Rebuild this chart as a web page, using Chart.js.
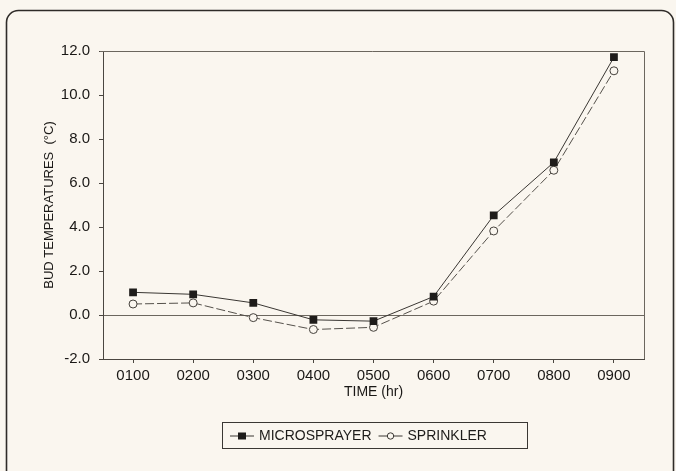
<!DOCTYPE html>
<html>
<head>
<meta charset="utf-8">
<script src="https://cdn.jsdelivr.net/npm/chart.js@4/dist/chart.umd.min.js"></script>
<style>
  html, body { margin: 0; padding: 0; background: #faf6ef; }
  #wrap { width: 676px; height: 471px; position: relative; }
</style>
</head>
<body>
<div id="wrap"><canvas id="grafico" width="676" height="471"></canvas></div>
<script>
// horas e temperaturas dos botões
const horas = ["0100", "0200", "0300", "0400", "0500", "0600", "0700", "0800", "0900"];
const microsprayer = [1.03, 0.94, 0.55, -0.22, -0.28, 0.84, 4.53, 6.94, 11.72];
const sprinkler = [0.5, 0.55, -0.12, -0.66, -0.56, 0.63, 3.82, 6.58, 11.1];
const ticksY = [-2, 0, 2, 4, 6, 8, 10, 12];

const corLinha = "#3a3733";
const fonte = "'Liberation Sans', Arial, sans-serif";

// moldura arredondada, borda da área e legenda desenhada à mão
const molduraPlugin = {
  id: "moldura",
  beforeDraw(chart) {
    const ctx = chart.ctx;
    ctx.save();
    ctx.fillStyle = "#faf6ef";
    ctx.fillRect(0, 0, chart.width, chart.height);
    ctx.strokeStyle = "#2e2b28";
    ctx.lineWidth = 1.6;
    ctx.beginPath();
    ctx.roundRect(6.5, 10.5, 667, 480, 12);
    ctx.stroke();
    ctx.restore();
  },
  afterDatasetsDraw(chart) {
    const ctx = chart.ctx;
    const a = chart.chartArea;
    ctx.save();
    ctx.strokeStyle = "#6b665e";
    ctx.lineWidth = 1;
    ctx.beginPath();
    ctx.moveTo(a.left - 3, a.top + 0.5);
    ctx.lineTo(a.right + 0.5, a.top + 0.5);
    ctx.lineTo(a.right + 0.5, a.bottom);
    ctx.stroke();

    // legenda
    const lx = 222, ly = 422, lw = 305, lh = 26;
    ctx.strokeStyle = "#3a3733";
    ctx.lineWidth = 1;
    ctx.strokeRect(lx + 0.5, ly + 0.5, lw, lh);
    ctx.font = "14px " + fonte;
    ctx.textBaseline = "middle";
    ctx.fillStyle = "#1e1c1a";
    const cy = ly + lh / 2 + 1;
    let x = lx + 8;
    chart.data.datasets.forEach(ds => {
      ctx.strokeStyle = corLinha;
      ctx.lineWidth = 1;
      ctx.setLineDash([]);
      ctx.beginPath();
      ctx.moveTo(x, cy);
      ctx.lineTo(x + 24, cy);
      ctx.stroke();
      ctx.beginPath();
      if (ds.pointStyle === "rect") {
        ctx.fillStyle = "#1e1c1a";
        ctx.fillRect(x + 8, cy - 3.5, 8, 7);
      } else {
        ctx.fillStyle = "#faf6ef";
        ctx.arc(x + 12, cy, 3.2, 0, Math.PI * 2);
        ctx.fill();
        ctx.stroke();
      }
      ctx.fillStyle = "#1e1c1a";
      ctx.fillText(ds.label, x + 29, cy);
      x += 29 + ctx.measureText(ds.label).width + 7;
    });
    ctx.restore();
  }
};

new Chart(document.getElementById("grafico").getContext("2d"), {
  type: "line",
  data: {
    labels: horas,
    datasets: [
      {
        label: "MICROSPRAYER",
        data: microsprayer,
        borderColor: corLinha,
        borderWidth: 1,
        pointStyle: "rect",
        pointRadius: 5.5,
        pointBackgroundColor: "#1e1c1a",
        pointBorderColor: "#1e1c1a",
        pointBorderWidth: 0,
        fill: false,
        tension: 0
      },
      {
        label: "SPRINKLER",
        data: sprinkler,
        borderColor: "#55514b",
        borderWidth: 1,
        borderDash: [9, 3],
        pointStyle: "circle",
        pointRadius: 4,
        pointBackgroundColor: "#faf6ef",
        pointBorderColor: "#45413c",
        pointBorderWidth: 1,
        fill: false,
        tension: 0
      }
    ]
  },
  options: {
    responsive: false,
    animation: false,
    layout: { padding: { left: 38, right: 32, top: 51, bottom: 62 } },
    plugins: {
      legend: { display: false },
      tooltip: { enabled: false },
      title: { display: false }
    },
    scales: {
      x: {
        type: "category",
        offset: true,
        afterFit: s => { s.height = 50; },
        border: { display: true, color: "#4a4640", width: 1 },
        grid: {
          offset: false,
          drawOnChartArea: false,
          tickLength: 4,
          tickColor: "#4a4640"
        },
        ticks: { color: "#1a1816", font: { family: fonte, size: 15 }, padding: 4, autoSkip: false, maxRotation: 0 },
        title: { display: true, text: "TIME (hr)", color: "#1a1816", font: { family: fonte, size: 14 }, padding: { top: 2, bottom: 8 } }
      },
      y: {
        min: -2,
        max: 12,
        afterFit: s => { s.width = 65; },
        afterBuildTicks: s => { s.ticks = ticksY.map(v => ({ value: v })); },
        border: { display: true, color: "#4a4640", width: 1 },
        grid: {
          color: c => (c.tick && c.tick.value === 0 ? "#6b665e" : "rgba(0,0,0,0)"),
          tickColor: "#4a4640",
          tickLength: 4
        },
        ticks: {
          color: "#1a1816",
          font: { family: fonte, size: 15 },
          padding: 9,
          callback: v => v.toFixed(1)
        },
        title: { display: true, text: "BUD TEMPERATURES  (°C)", color: "#1a1816", font: { family: fonte, size: 13 }, padding: 4 }
      }
    }
  },
  plugins: [molduraPlugin]
});
</script>
</body>
</html>
